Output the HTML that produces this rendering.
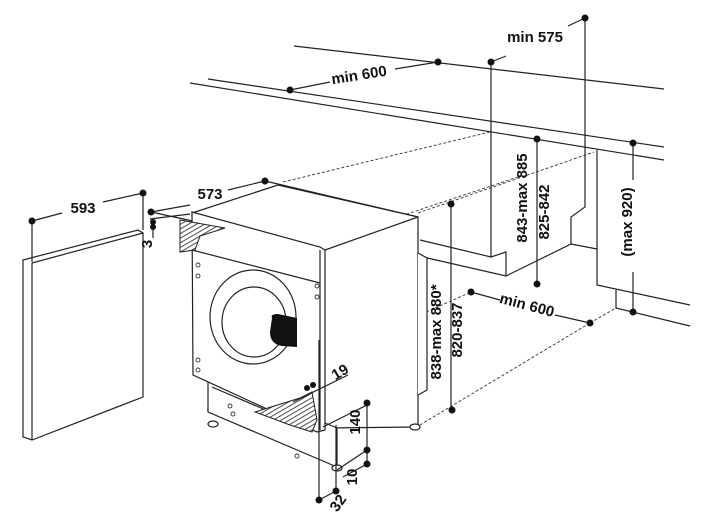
<!DOCTYPE html>
<html><head><meta charset="utf-8"><style>
html,body{margin:0;padding:0;background:#fff;}
svg{display:block}
text{font-family:"Liberation Sans",sans-serif;font-weight:bold;font-size:15px;fill:#111}
</style></head><body>
<svg width="720" height="527" viewBox="0 0 720 527" xmlns="http://www.w3.org/2000/svg">
<defs>
<pattern id="h" width="4" height="4" patternUnits="userSpaceOnUse" patternTransform="rotate(60)">
<rect width="4" height="4" fill="#fff"/><line x1="0" y1="0" x2="0" y2="4" stroke="#222" stroke-width="1.6"/>
</pattern>
</defs>
<g stroke="#222" stroke-width="1.2" fill="none">
<line x1="294" y1="46" x2="664" y2="89"/>
<line x1="208" y1="79" x2="664" y2="147"/>
<line x1="190" y1="83" x2="664" y2="160"/>
<line x1="290" y1="90" x2="330" y2="82"/>
<line x1="395" y1="69" x2="438" y2="62"/>
<line x1="491" y1="62" x2="506" y2="56"/>
<line x1="568" y1="26" x2="585" y2="18"/>
<polyline points="420,240 491,257 491,62"/>
<polyline points="491,257 506,252 506,276"/>
<polyline points="423,257 506,276 571,244 597,249"/>
<polyline points="571,244 571,217 585,207 585,18"/>
<polyline points="597,150 597,285 690,305"/>
<polyline points="616,290 616,308 690,326"/>
<line x1="537" y1="139" x2="537" y2="284"/>
<line x1="633" y1="143" x2="633" y2="180"/>
<line x1="633" y1="272" x2="633" y2="312"/>
<line x1="451" y1="204" x2="451" y2="410"/>
<line x1="471" y1="292" x2="500" y2="300"/>
<line x1="555" y1="315" x2="590" y2="323"/>
</g>
<g stroke="#333" stroke-width="0.9" stroke-dasharray="3,2" fill="none">
<line x1="283" y1="182" x2="490" y2="132"/>
<line x1="335" y1="238" x2="518" y2="177"/>
<line x1="418" y1="213" x2="594" y2="152"/>
<line x1="207" y1="410" x2="471" y2="292"/>
<line x1="420" y1="425" x2="590" y2="323"/>
<line x1="590" y1="323" x2="616" y2="308"/>
</g>
<g stroke="#222" stroke-width="1.2" fill="#fff">
<polygon points="23,260 138,230 143,233 143,397 32,440 23,437"/>
<line x1="32" y1="263" x2="143" y2="233"/>
<line x1="32" y1="263" x2="32" y2="440"/>
<line x1="32" y1="221" x2="32" y2="262"/>
<line x1="143" y1="193" x2="143" y2="230"/>
<line x1="32" y1="221" x2="62" y2="213"/>
<line x1="103" y1="202" x2="143" y2="193"/>
<line x1="151" y1="212" x2="190" y2="205"/>
<line x1="228" y1="190" x2="265" y2="181"/>
<line x1="265" y1="181" x2="418" y2="217"/>
<line x1="151" y1="212" x2="225" y2="228"/>
<line x1="150" y1="219" x2="190" y2="214"/>
<line x1="153" y1="227" x2="153" y2="238"/>
</g>
<g stroke="#222" stroke-width="1.2" fill="#fff">
<polygon points="192,213 278,185 418,217 418,427 325,428"/>
<polygon points="208,375 208,412 337,467 337,428"/>
<line x1="212" y1="387" x2="317" y2="432"/>
<polygon points="192,212 320,247 325,250 325,430 317,432 193,375"/>
<line x1="320" y1="250" x2="320" y2="430"/>
<line x1="192" y1="250" x2="320" y2="283"/>
<line x1="325" y1="250" x2="418" y2="217" />
<line x1="323" y1="427" x2="367" y2="405"/>
<polyline points="418,253 427,258 427,390 418,395"/>
<ellipse cx="253" cy="317" rx="43" ry="47"/>
<ellipse cx="254" cy="322" rx="32" ry="35"/>
<ellipse cx="213" cy="424" rx="5" ry="3"/>
<ellipse cx="337" cy="468" rx="5" ry="3"/>
<ellipse cx="415" cy="427" rx="5" ry="3"/>
</g>
<path d="M272,318 Q270,314 278,314 L297,318 L297,347 L282,346 Q270,344 270,332 Z" fill="#111"/>
<polygon points="180,220 225,228 200,236 195,250 180,252" fill="url(#h)" stroke="#222" stroke-width="1"/>
<polygon points="255,412 300,398 312,392 317,420 312,432 290,425" fill="url(#h)" stroke="#222" stroke-width="1"/>
<g fill="#fff" stroke="#333" stroke-width="0.9">
<circle cx="198" cy="265" r="2"/><circle cx="198" cy="276" r="2"/><circle cx="317" cy="286" r="2"/><circle cx="317" cy="297" r="2"/>
<circle cx="198" cy="360" r="2"/><circle cx="198" cy="370" r="2"/>
<circle cx="230" cy="406" r="2"/><circle cx="233" cy="414" r="2"/><circle cx="297" cy="456" r="2"/>
</g>
<g stroke="#222" stroke-width="1.2" fill="none">
<line x1="319" y1="340" x2="319" y2="500"/>
<line x1="336" y1="425" x2="336" y2="491"/>
<line x1="319" y1="500" x2="336" y2="491"/>
<line x1="367" y1="403" x2="367" y2="464"/>
<line x1="337" y1="470" x2="367" y2="450"/>
<line x1="343" y1="477" x2="367" y2="464"/>
<line x1="293" y1="402" x2="348" y2="375"/>
</g>
<g fill="#111">
<circle cx="290" cy="90" r="3.5"/><circle cx="438" cy="62" r="3.5"/><circle cx="491" cy="62" r="3.5"/>
<circle cx="585" cy="18" r="3.5"/><circle cx="537" cy="139" r="3.5"/><circle cx="633" cy="143" r="3.5"/>
<circle cx="537" cy="284" r="3.5"/><circle cx="471" cy="292" r="3.5"/><circle cx="590" cy="323" r="3.5"/>
<circle cx="633" cy="312" r="3.5"/><circle cx="451" cy="204" r="3.5"/><circle cx="452" cy="410" r="3.5"/>
<circle cx="32" cy="221" r="3.5"/><circle cx="143" cy="193" r="3.5"/><circle cx="151" cy="212" r="3.5"/>
<circle cx="265" cy="181" r="3.5"/><circle cx="153" cy="222" r="3"/><circle cx="153" cy="227" r="3"/>
<circle cx="367" cy="403" r="3.5"/><circle cx="367" cy="450" r="3.5"/><circle cx="367" cy="464" r="3.5"/>
<circle cx="319" cy="500" r="3.5"/><circle cx="336" cy="491" r="3.5"/>
<circle cx="307" cy="388" r="3"/><circle cx="313" cy="385" r="3"/>
</g>
<text x="359" y="80" text-anchor="middle" transform="rotate(-9 359 75)">min 600</text>
<text x="535" y="42" text-anchor="middle">min 575</text>
<text x="83" y="213" text-anchor="middle">593</text>
<text x="210" y="199" text-anchor="middle">573</text>
<text x="157" y="249" text-anchor="middle" transform="rotate(-90 152 249)">3</text>
<text x="532" y="203" text-anchor="middle" transform="rotate(-90 527 203)">843-max 885</text>
<text x="554" y="217" text-anchor="middle" transform="rotate(-90 549 217)">825-842</text>
<text x="637" y="227" text-anchor="middle" transform="rotate(-90 632 227)">(max 920)</text>
<text x="446" y="337" text-anchor="middle" transform="rotate(-90 441 337)">838-max 880*</text>
<text x="467" y="335" text-anchor="middle" transform="rotate(-90 462 335)">820-837</text>
<text x="527" y="310" text-anchor="middle" transform="rotate(15 527 305)">min 600</text>
<text x="340" y="377" text-anchor="middle" transform="rotate(-30 340 372)">19</text>
<text x="365" y="427" text-anchor="middle" transform="rotate(-90 360 427)">140</text>
<text x="362" y="482" text-anchor="middle" transform="rotate(-90 357 482)">10</text>
<text x="338" y="508" text-anchor="middle" transform="rotate(-55 338 503)">32</text>
</svg>
</body></html>
